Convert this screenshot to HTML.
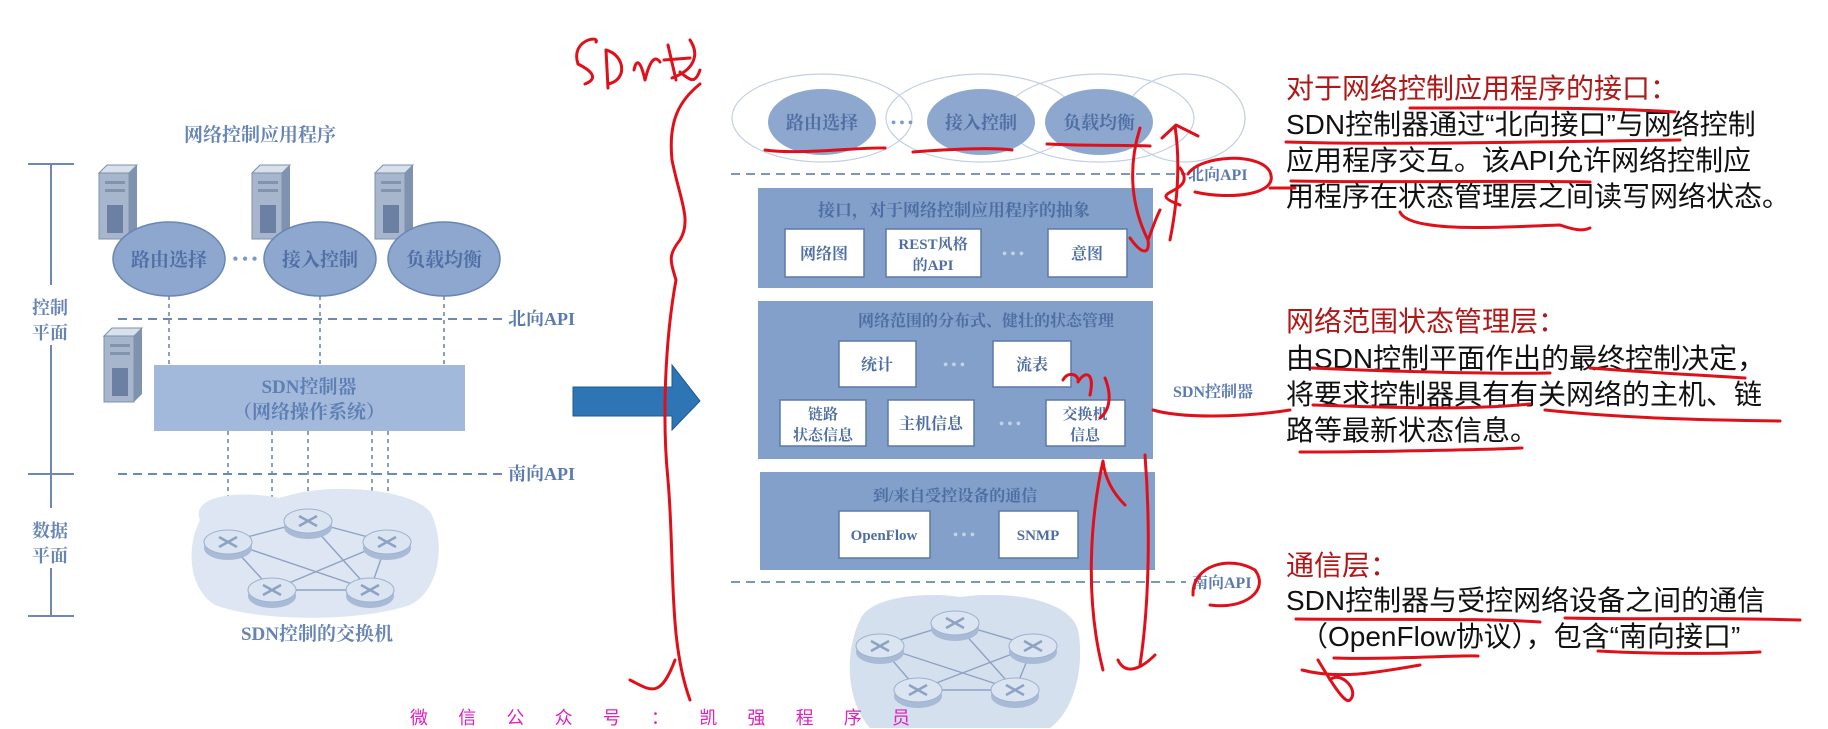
<!DOCTYPE html>
<html><head><meta charset="utf-8"><style>
html,body{margin:0;padding:0;background:#fff;width:1828px;height:729px;overflow:hidden;}
svg{display:block;overflow:hidden;}
.sf{font-family:"Liberation Serif","Noto Serif CJK SC",serif;font-weight:bold;}
.ss{font-family:"Liberation Sans","Noto Sans CJK SC",sans-serif;}
</style></head><body>
<svg width="1828" height="729" viewBox="0 0 1828 729" xmlns="http://www.w3.org/2000/svg">
<rect width="1828" height="729" fill="#fff"/>
<defs>
<g id="srv">
<rect x="0" y="8" width="30" height="66" fill="#a7b6cc" stroke="#7d90ad"/>
<polygon points="0,8 8,0 38,0 30,8" fill="#d8e0ec" stroke="#7d90ad"/>
<polygon points="30,8 38,0 38,66 30,74" fill="#7f92b0"/>
<rect x="8" y="40" width="16" height="28" fill="#6b80a3"/>
<rect x="6" y="16" width="20" height="3" fill="#8293ae"/><rect x="6" y="24" width="20" height="3" fill="#8293ae"/>
</g>
<g id="rt">
<ellipse cx="0" cy="6" rx="24" ry="12" fill="#a9bad6"/>
<ellipse cx="0" cy="0" rx="24" ry="12" fill="#dbe4f1" stroke="#9fb1cf"/>
<path d="M-9,-5 L9,5 M-9,5 L9,-5" stroke="#8ea2c4" stroke-width="2.5"/>
</g>
</defs>

<text x="260" y="141" class="sf" font-size="19" fill="#6684b5" text-anchor="middle">网络控制应用程序</text>
<g stroke="#6d88b6" stroke-width="2" fill="none">
<line x1="51" y1="164" x2="51" y2="616"/>
<line x1="28" y1="164" x2="74" y2="164"/>
<line x1="28" y1="474" x2="74" y2="474"/>
<line x1="28" y1="616" x2="74" y2="616"/>
</g>
<rect x="28" y="285" width="44" height="60" fill="#fff"/>
<rect x="28" y="508" width="44" height="60" fill="#fff"/>
<text x="50" y="314" class="sf" font-size="18" fill="#6684b5" text-anchor="middle">控制</text>
<text x="50" y="339" class="sf" font-size="18" fill="#6684b5" text-anchor="middle">平面</text>
<text x="50" y="537" class="sf" font-size="18" fill="#6684b5" text-anchor="middle">数据</text>
<text x="50" y="562" class="sf" font-size="18" fill="#6684b5" text-anchor="middle">平面</text>

<use href="#srv" x="99" y="165"/>
<use href="#srv" x="252" y="165"/>
<use href="#srv" x="375" y="165"/>
<use href="#srv" x="104" y="328"/>

<g stroke="#6d88b6" stroke-width="1.6" stroke-dasharray="4,4">
<line x1="169" y1="296" x2="169" y2="365"/>
<line x1="320" y1="296" x2="320" y2="365"/>
<line x1="444" y1="296" x2="444" y2="365"/>
<line x1="228" y1="431" x2="228" y2="530"/>
<line x1="272" y1="431" x2="272" y2="578"/>
<line x1="308" y1="431" x2="308" y2="510"/>
<line x1="372" y1="431" x2="372" y2="578"/>
<line x1="388" y1="431" x2="388" y2="530"/>
</g>
<g fill="#8ea7cf" stroke="#6a86b5" stroke-width="1.5">
<ellipse cx="169" cy="259" rx="56" ry="37"/>
<ellipse cx="320" cy="259" rx="56" ry="37"/>
<ellipse cx="444" cy="259" rx="56" ry="37"/>
</g>
<text x="169" y="266" class="sf" font-size="19" fill="#4f6fa5" text-anchor="middle">路由选择</text>
<text x="320" y="266" class="sf" font-size="19" fill="#4f6fa5" text-anchor="middle">接入控制</text>
<text x="444" y="266" class="sf" font-size="19" fill="#4f6fa5" text-anchor="middle">负载均衡</text>
<text x="245" y="264" font-size="16" fill="#7f98c2" text-anchor="middle" class="sf">• • •</text>

<g stroke="#6d88b6" stroke-width="2" stroke-dasharray="9,6">
<line x1="118" y1="319" x2="502" y2="319"/>
<line x1="118" y1="474" x2="502" y2="474"/>
</g>
<text x="508" y="325" class="sf" font-size="18" fill="#5b7bb0">北向API</text>
<text x="508" y="480" class="sf" font-size="18" fill="#5b7bb0">南向API</text>

<rect x="154" y="365" width="311" height="66" fill="#a3b9db"/>
<text x="309" y="393" class="sf" font-size="19" fill="#5d7fb3" text-anchor="middle">SDN控制器</text>
<text x="309" y="418" class="sf" font-size="19" fill="#5d7fb3" text-anchor="middle">（网络操作系统）</text>

<path d="M200,520 C190,495 240,490 280,498 C330,480 420,490 432,515 C445,545 440,590 410,605 C360,622 260,622 215,605 C190,590 185,550 200,520 Z" fill="#dde6f2"/>
<g stroke="#8ea2c4" stroke-width="1.4">
<line x1="228" y1="542" x2="308" y2="521"/><line x1="308" y1="521" x2="387" y2="542"/>
<line x1="228" y1="542" x2="272" y2="590"/><line x1="387" y1="542" x2="370" y2="590"/>
<line x1="272" y1="590" x2="370" y2="590"/><line x1="228" y1="542" x2="370" y2="590"/>
<line x1="387" y1="542" x2="272" y2="590"/><line x1="308" y1="521" x2="370" y2="590"/>
</g>
<use href="#rt" x="228" y="542"/><use href="#rt" x="308" y="521"/><use href="#rt" x="387" y="542"/>
<use href="#rt" x="272" y="590"/><use href="#rt" x="370" y="590"/>
<text x="317" y="640" class="sf" font-size="19" fill="#6684b5" text-anchor="middle">SDN控制的交换机</text>

<polygon points="573,387 672,387 672,365 700,401 672,430 672,416 573,416" fill="#2e75b6" stroke="#1f5a90" stroke-width="1"/>

<g fill="none" stroke="#c3cfe2" stroke-width="1.2">
<ellipse cx="822" cy="118" rx="90" ry="44"/>
<ellipse cx="981" cy="118" rx="95" ry="44"/>
<ellipse cx="1099" cy="118" rx="95" ry="44"/>
<ellipse cx="1185" cy="118" rx="60" ry="44"/>
</g>
<g fill="#8ea7cf">
<ellipse cx="822" cy="122" rx="54" ry="33"/>
<ellipse cx="981" cy="122" rx="54" ry="33"/>
<ellipse cx="1099" cy="122" rx="54" ry="33"/>
</g>
<text x="822" y="129" class="sf" font-size="18" fill="#4f6fa5" text-anchor="middle">路由选择</text>
<text x="981" y="129" class="sf" font-size="18" fill="#4f6fa5" text-anchor="middle">接入控制</text>
<text x="1099" y="129" class="sf" font-size="18" fill="#4f6fa5" text-anchor="middle">负载均衡</text>
<text x="902" y="127" class="sf" font-size="14" fill="#7f98c2" text-anchor="middle">• • •</text>
<g stroke="#7d96c0" stroke-width="2" stroke-dasharray="9,6">
<line x1="731" y1="174" x2="1186" y2="174"/>
<line x1="731" y1="582" x2="1186" y2="582"/>
</g>
<text x="1188" y="180" class="sf" font-size="16" fill="#5b7bb0">北向API</text>
<text x="1192" y="588" class="sf" font-size="16" fill="#5b7bb0">南向API</text>

<rect x="758" y="188" width="395" height="100" fill="#82a0c9"/>
<text x="954" y="216" class="sf" font-size="17" fill="#4d6da3" text-anchor="middle">接口，对于网络控制应用程序的抽象</text>
<g fill="#fff" stroke="#5c78a8" stroke-width="1.5">
<rect x="785" y="229" width="79" height="48"/><rect x="886" y="229" width="95" height="48"/><rect x="1048" y="229" width="79" height="48"/>
</g>
<text x="824" y="259" class="sf" font-size="16" fill="#4d6da3" text-anchor="middle">网络图</text>
<text x="933" y="249" class="sf" font-size="15" fill="#4d6da3" text-anchor="middle">REST风格</text>
<text x="933" y="270" class="sf" font-size="15" fill="#4d6da3" text-anchor="middle">的API</text>
<text x="1087" y="259" class="sf" font-size="16" fill="#4d6da3" text-anchor="middle">意图</text>
<text x="1013" y="258" class="sf" font-size="14" fill="#c4d2e8" text-anchor="middle">• • •</text>

<rect x="758" y="301" width="395" height="158" fill="#82a0c9"/>
<text x="986" y="326" class="sf" font-size="16" fill="#4d6da3" text-anchor="middle">网络范围的分布式、健壮的状态管理</text>
<g fill="#fff" stroke="#5c78a8" stroke-width="1.5">
<rect x="839" y="341" width="77" height="46"/><rect x="993" y="341" width="78" height="46"/>
<rect x="780" y="400" width="86" height="46"/><rect x="888" y="400" width="86" height="46"/><rect x="1046" y="400" width="79" height="46"/>
</g>
<text x="877" y="370" class="sf" font-size="16" fill="#4d6da3" text-anchor="middle">统计</text>
<text x="1032" y="370" class="sf" font-size="16" fill="#4d6da3" text-anchor="middle">流表</text>
<text x="823" y="419" class="sf" font-size="15" fill="#4d6da3" text-anchor="middle">链路</text>
<text x="823" y="440" class="sf" font-size="15" fill="#4d6da3" text-anchor="middle">状态信息</text>
<text x="931" y="429" class="sf" font-size="16" fill="#4d6da3" text-anchor="middle">主机信息</text>
<text x="1085" y="419" class="sf" font-size="15" fill="#4d6da3" text-anchor="middle">交换机</text>
<text x="1085" y="440" class="sf" font-size="15" fill="#4d6da3" text-anchor="middle">信息</text>
<text x="954" y="369" class="sf" font-size="14" fill="#c4d2e8" text-anchor="middle">• • •</text>
<text x="1010" y="428" class="sf" font-size="14" fill="#c4d2e8" text-anchor="middle">• • •</text>

<rect x="760" y="472" width="395" height="98" fill="#82a0c9"/>
<text x="955" y="501" class="sf" font-size="16" fill="#4d6da3" text-anchor="middle">到/来自受控设备的通信</text>
<g fill="#fff" stroke="#5c78a8" stroke-width="1.5">
<rect x="839" y="511" width="91" height="47"/><rect x="999" y="511" width="79" height="47"/>
</g>
<text x="884" y="540" class="sf" font-size="15" fill="#4d6da3" text-anchor="middle">OpenFlow</text>
<text x="1038" y="540" class="sf" font-size="15" fill="#4d6da3" text-anchor="middle">SNMP</text>
<text x="964" y="539" class="sf" font-size="14" fill="#c4d2e8" text-anchor="middle">• • •</text>

<text x="1173" y="397" class="sf" font-size="16" fill="#5b7bb0">SDN控制器</text>

<path d="M860,620 C870,595 930,592 960,597 C1010,590 1070,600 1078,630 C1085,665 1075,710 1050,728 L870,728 C845,700 845,650 860,620 Z" fill="#d5e0ef"/>
<g stroke="#8ea2c4" stroke-width="1.4">
<line x1="880" y1="646" x2="955" y2="623"/><line x1="955" y1="623" x2="1033" y2="646"/>
<line x1="880" y1="646" x2="918" y2="690"/><line x1="1033" y1="646" x2="1015" y2="690"/>
<line x1="918" y1="690" x2="1015" y2="690"/><line x1="880" y1="646" x2="1015" y2="690"/>
<line x1="1033" y1="646" x2="918" y2="690"/><line x1="955" y1="623" x2="1015" y2="690"/>
</g>
<use href="#rt" x="880" y="646"/><use href="#rt" x="955" y="623"/><use href="#rt" x="1033" y="646"/>
<use href="#rt" x="918" y="690"/><use href="#rt" x="1015" y="690"/>

<g class="ss" font-size="28">
<text x="1286" y="98" fill="#b01818">对于网络控制应用程序的接口：</text>
<text x="1286" y="134" fill="#111">SDN控制器通过“北向接口”与网络控制</text>
<text x="1286" y="170" fill="#111">应用程序交互。该API允许网络控制应</text>
<text x="1286" y="206" fill="#111">用程序在状态管理层之间读写网络状态。</text>
<text x="1286" y="331" fill="#b01818">网络范围状态管理层：</text>
<text x="1286" y="368" fill="#111">由SDN控制平面作出的最终控制决定，</text>
<text x="1286" y="404" fill="#111">将要求控制器具有有关网络的主机、链</text>
<text x="1286" y="440" fill="#111">路等最新状态信息。</text>
<text x="1286" y="575" fill="#b01818">通信层：</text>
<text x="1286" y="610" fill="#111">SDN控制器与受控网络设备之间的通信</text>
<text x="1300" y="646" fill="#111">（OpenFlow协议），包含“南向接口”</text>
</g>

<text x="410" y="724" class="ss" font-size="18" fill="#e020c0" textLength="500" lengthAdjust="spacing">微信公众号：凯强程序员</text>

<g fill="none" stroke="#e0101a" stroke-width="3" stroke-linecap="round" stroke-linejoin="round">
<path d="M578,64 C570,40 600,35 596,42 M578,64 C590,70 600,78 585,84"/>
<path d="M606,50 L608,88 M606,50 C625,55 628,80 608,84"/>
<path d="M634,70 C636,60 640,58 645,80 C650,60 655,55 660,62"/>
<path d="M668,45 L676,80 M664,60 L690,58 M690,40 C700,55 694,70 672,78 M680,72 C690,80 695,85 700,70"/>
<path d="M700,84 C680,100 668,120 672,160 C680,200 692,220 680,240 C668,255 670,260 676,280 C665,340 662,420 668,480 C675,560 668,640 690,700"/>
<path d="M630,680 C650,690 660,700 675,660"/>
<path d="M765,150 C800,155 860,147 885,148"/>
<path d="M913,152 C940,150 990,147 1012,150"/>
<path d="M1047,144 C1090,146 1130,145 1150,146"/>
<path d="M1140,128 C1130,160 1128,200 1148,240 C1150,255 1142,255 1130,238 M1148,240 C1152,230 1155,220 1160,210"/>
<path d="M1170,240 C1178,200 1180,160 1175,126 M1162,138 L1176,125 L1198,136"/>
<path d="M1180,168 C1200,195 1140,190 1180,205"/>
<path d="M1188,174 C1200,155 1260,152 1270,172 C1280,195 1230,200 1195,192 M1270,188 L1295,188"/>
<path d="M1063,380 C1068,370 1080,375 1078,382 C1085,370 1095,372 1090,395 M1105,378 C1112,395 1110,410 1100,418"/>
<path d="M1153,410 C1180,418 1240,418 1290,410"/>
<path d="M1103,461 C1090,520 1085,600 1103,670 M1103,461 C1105,480 1115,495 1125,505"/>
<path d="M1145,455 C1150,520 1150,600 1140,665 M1118,660 C1125,675 1140,670 1155,655"/>
<path d="M1193,595 C1192,565 1230,555 1255,570 C1270,590 1245,610 1210,605"/>
<path d="M1286,142 C1380,145 1520,142 1680,140 M1410,108 C1500,108 1600,107 1675,112"/>
<path d="M1291,181 C1400,183 1500,180 1590,182"/>
<path d="M1400,212 C1410,235 1520,226 1560,225 C1580,232 1585,230 1590,228"/>
<path d="M1312,368 C1400,372 1500,374 1550,373 M1590,368 C1640,372 1700,375 1745,378"/>
<path d="M1313,405 C1400,408 1470,410 1530,404 M1545,410 C1620,418 1700,420 1780,421"/>
<path d="M1300,452 C1360,452 1480,450 1522,448"/>
<path d="M1296,619 C1400,620 1480,618 1540,622 M1565,618 C1650,620 1700,617 1800,620"/>
<path d="M1334,658 C1380,660 1460,655 1478,656 M1302,670 C1340,680 1380,672 1420,665 M1318,660 C1330,680 1345,705 1350,700 C1360,690 1340,670 1330,680"/>
<path d="M1598,651 C1650,654 1720,654 1760,652"/>
</g>
</svg>
</body></html>
